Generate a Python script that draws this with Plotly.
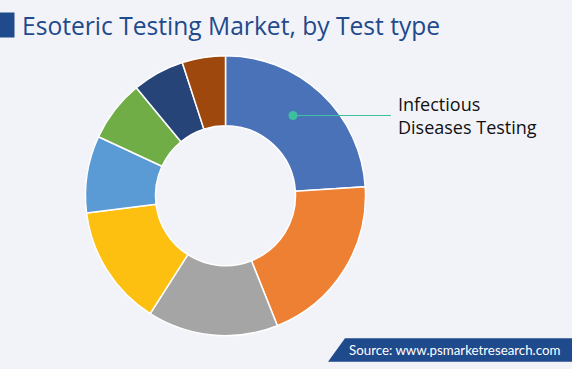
import plotly.graph_objects as go

categories = ["Infectious Diseases Testing", "Oncology Testing", "Endocrinology Testing",
              "Toxicology Testing", "Neurology Testing", "Immunology Testing",
              "Genetic Testing", "Others"]
shares = [24.0, 20.0, 15.1, 14.0, 8.9, 7.1, 6.0, 5.0]
colors = ["#4A72B8", "#EE8033", "#A5A5A5", "#FDC010", "#5B9BD5", "#70AD47", "#264478", "#9E480E"]

W, H = 572, 369
BG = "#F2F3F8"
NAVY = "#1F4A8C"

def px(x):
    return x / W

def py(y):
    return 1 - y / H

fig = go.Figure(go.Pie(
    labels=categories, values=shares, hole=0.5, sort=False,
    direction="clockwise", rotation=0,
    marker=dict(colors=colors, line=dict(color="white", width=1.5)),
    textinfo="none", hoverinfo="label+percent", showlegend=False,
    domain=dict(x=[px(85.5), px(365.5)], y=[py(335.7), py(55.7)]),
))

shapes = [
    dict(type="rect", xref="paper", yref="paper", x0=px(0), x1=px(14.5), y0=py(37.5), y1=py(12.5),
         fillcolor=NAVY, line=dict(width=0)),
    dict(type="path", xref="paper", yref="paper",
         path=f"M {px(328)} {py(361.7)} L {px(345)} {py(338.3)} L {px(572)} {py(338.3)} L {px(572)} {py(361.7)} Z",
         fillcolor=NAVY, line=dict(width=0)),
    dict(type="line", xref="paper", yref="paper", x0=px(293), x1=px(391), y0=py(115.5), y1=py(115.5),
         line=dict(color="#3CC0A0", width=1.2)),
    dict(type="circle", xref="paper", yref="paper", x0=px(288.5), x1=px(297.5), y0=py(120), y1=py(111),
         fillcolor="#3CC0A0", line=dict(width=0)),
]

annotations = [
    dict(text="Esoteric Testing Market, by Test type", xref="paper", yref="paper",
         x=px(20), y=py(25), xanchor="left", yanchor="middle", showarrow=False,
         font=dict(family="Open Sans", size=24.6, color=NAVY)),
    dict(text="Infectious<br>Diseases Testing", xref="paper", yref="paper",
         x=px(396), y=py(115.5), xanchor="left", yanchor="middle", align="left", showarrow=False,
         font=dict(family="Open Sans", size=18, color="#111111")),
    dict(text="Source: www.psmarketresearch.com", xref="paper", yref="paper",
         x=px(347), y=py(350), xanchor="left", yanchor="middle", showarrow=False,
         font=dict(family="Lato", size=13.3, color="white")),
]

fig.update_layout(
    width=W, height=H, margin=dict(l=0, r=0, t=0, b=0),
    paper_bgcolor=BG, plot_bgcolor=BG,
    shapes=shapes, annotations=annotations,
)

fig.write_html("out.html", config={"displayModeBar": False},
               post_script="document.body.style.margin='0';document.body.style.background='#F2F3F8';")
